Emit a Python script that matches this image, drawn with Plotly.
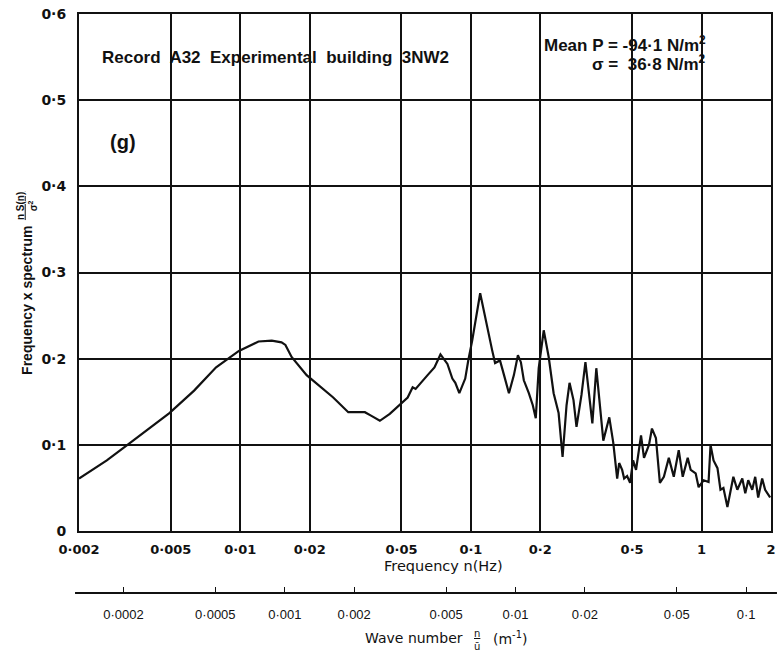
import math
import plotly.graph_objects as go

frequency_hz = [
    0.002, 0.0023, 0.00264, 0.00332, 0.00404, 0.00493, 0.00631, 0.00786, 0.00987, 0.0120,
    0.0137, 0.0151, 0.0157, 0.0167, 0.0194, 0.0234, 0.0253, 0.0294, 0.0347, 0.0369,
    0.0403, 0.0445, 0.0482, 0.0532, 0.0559, 0.0576, 0.0649, 0.0695, 0.0738, 0.0791,
    0.0831, 0.0856, 0.0891, 0.0945, 0.0974, 0.1013, 0.1097, 0.1176, 0.1236, 0.1273,
    0.1337, 0.1392, 0.1462, 0.1536, 0.1599, 0.1647, 0.1696, 0.1783, 0.1855, 0.1911,
    0.1968, 0.2069, 0.2174, 0.2284, 0.2400, 0.2497, 0.2598, 0.2677, 0.2785, 0.2870,
    0.3016, 0.3137, 0.3264, 0.3362, 0.3497, 0.3640, 0.3750, 0.3981, 0.4140, 0.4307,
    0.4393, 0.4526, 0.4617, 0.4757, 0.4900, 0.5048, 0.5200, 0.5465, 0.5630, 0.5916,
    0.6094, 0.6340, 0.6597, 0.6864, 0.7212, 0.7578, 0.7963, 0.8286, 0.8709, 0.8973,
    0.9428, 0.9712, 1.0206, 1.0724, 1.0938, 1.1270, 1.1722, 1.2076, 1.2440, 1.2942,
    1.3332, 1.3734, 1.4290, 1.5016, 1.5470, 1.5936, 1.6584, 1.7084, 1.7600, 1.8310,
    1.8862, 1.9822,
]

# Frequency x spectrum, n S(n) / sigma^2
normalised_spectrum = [
    0.061, 0.072, 0.082, 0.102, 0.119, 0.137, 0.163, 0.190, 0.209, 0.220,
    0.221, 0.219, 0.216, 0.202, 0.181, 0.163, 0.155, 0.138, 0.138, 0.134,
    0.128, 0.136, 0.144, 0.155, 0.167, 0.165, 0.181, 0.190, 0.205, 0.194,
    0.177, 0.172, 0.160, 0.177, 0.198, 0.221, 0.276, 0.236, 0.210, 0.195,
    0.198, 0.181, 0.160, 0.181, 0.204, 0.196, 0.175, 0.160, 0.146, 0.131,
    0.189, 0.233, 0.202, 0.160, 0.137, 0.086, 0.146, 0.172, 0.152, 0.121,
    0.158, 0.196, 0.158, 0.125, 0.189, 0.140, 0.105, 0.132, 0.103, 0.061,
    0.079, 0.071, 0.061, 0.064, 0.056, 0.082, 0.071, 0.111, 0.085, 0.100,
    0.119, 0.108, 0.056, 0.063, 0.085, 0.063, 0.094, 0.063, 0.085, 0.071,
    0.067, 0.051, 0.059, 0.057, 0.100, 0.082, 0.073, 0.048, 0.050, 0.028,
    0.045, 0.063, 0.048, 0.061, 0.044, 0.059, 0.048, 0.063, 0.039, 0.061,
    0.048, 0.039,
]

freq_ticks = [0.002, 0.005, 0.01, 0.02, 0.05, 0.1, 0.2, 0.5, 1, 2]
freq_tick_text = ["0·002", "0·005", "0·01", "0·02", "0·05", "0·1", "0·2", "0·5", "1", "2"]

spectrum_ticks = [0, 0.1, 0.2, 0.3, 0.4, 0.5, 0.6]
spectrum_tick_text = ["0", "0·1", "0·2", "0·3", "0·4", "0·5", "0·6"]

wavenumber_ticks = [0.0002, 0.0005, 0.001, 0.002, 0.005, 0.01, 0.02, 0.05, 0.1]
wavenumber_tick_text = ["0·0002", "0·0005", "0·001", "0·002", "0·005", "0·01", "0·02", "0·05", "0·1"]

# Mean wind speed (m/s) relating frequency to wave number n/u
mean_wind_speed = 15.6

# ---------------------------------------------------------------- layout geometry
W, H = 782, 655
M_L, M_R, M_T, M_B = 79, 6, 13, 62
PLOT_BOTTOM_PX = 531           # bottom edge of the spectrum frame
paper_w = W - M_L - M_R
paper_h = H - M_T - M_B


def px_x(px):
    return (px - M_L) / paper_w


def px_y(py):
    return (H - M_B - py) / paper_h


SANS = "Liberation Sans, Arial, sans-serif"
WIDE = "DejaVu Sans, Verdana, sans-serif"
INK = "#111111"

fig = go.Figure()

fig.add_trace(go.Scatter(
    x=frequency_hz, y=normalised_spectrum, mode="lines",
    line=dict(color=INK, width=2.2), xaxis="x", yaxis="y",
    hoverinfo="skip", showlegend=False,
))

# same spectrum against wave number so the lower scale is laid out
fig.add_trace(go.Scatter(
    x=[f / mean_wind_speed for f in frequency_hz], y=normalised_spectrum,
    mode="lines", line=dict(width=0), opacity=0, xaxis="x2", yaxis="y",
    hoverinfo="skip", showlegend=False,
))

f_lo, f_hi = freq_ticks[0], freq_ticks[-1]

fig.update_layout(
    width=W, height=H,
    margin=dict(l=M_L, r=M_R, t=M_T, b=M_B, pad=0),
    paper_bgcolor="white", plot_bgcolor="white",
    font=dict(family=SANS, color=INK),
    xaxis=dict(
        type="log", range=[math.log10(f_lo), math.log10(f_hi)],
        domain=[0, 1], anchor="y",
        tickmode="array", tickvals=freq_ticks, ticktext=freq_tick_text,
        ticks="", ticklabelstandoff=5,
        tickfont=dict(family=WIDE, size=13, weight="bold", color=INK),
        showgrid=True, gridcolor=INK, gridwidth=1.6,
        showline=True, linecolor=INK, linewidth=2, mirror=True,
        zeroline=False,
    ),
    yaxis=dict(
        range=[0, 0.6], domain=[px_y(PLOT_BOTTOM_PX), 1], anchor="x",
        tickmode="array", tickvals=spectrum_ticks, ticktext=spectrum_tick_text,
        ticks="", ticklabelstandoff=8,
        tickfont=dict(family=WIDE, size=14, weight="bold", color=INK),
        showgrid=True, gridcolor=INK, gridwidth=1.6,
        showline=True, linecolor=INK, linewidth=2, mirror=True,
        zeroline=False,
    ),
    xaxis2=dict(
        type="log",
        range=[math.log10(f_lo / mean_wind_speed), math.log10(f_hi / mean_wind_speed)],
        domain=[0, 1], anchor="free", position=0, overlaying="x", side="bottom",
        tickmode="array", tickvals=wavenumber_ticks, ticktext=wavenumber_tick_text,
        ticks="inside", ticklen=6, tickwidth=1.2, tickcolor=INK,
        ticklabelstandoff=12,
        tickfont=dict(family=SANS, size=13, color=INK),
        showgrid=False, showline=False, zeroline=False,
    ),
)

# baseline of the wave-number scale, running a little past the frame
fig.add_shape(type="line", xref="paper", yref="paper",
              x0=px_x(75), x1=px_x(782), y0=0, y1=0,
              line=dict(color=INK, width=2))

annotations = [
    dict(text="Record  A32  Experimental  building  3NW2",
         x=px_x(100), y=px_y(57), xanchor="left", yanchor="middle",
         font=dict(size=17, weight="bold")),
    dict(text="Mean P = -94·1 N/m<sup>2</sup>",
         x=px_x(713), y=px_y(43), xanchor="right", yanchor="middle",
         font=dict(size=17, weight="bold")),
    dict(text="σ =  36·8 N/m<sup>2</sup>",
         x=px_x(713), y=px_y(62), xanchor="right", yanchor="middle",
         font=dict(size=17, weight="bold")),
    dict(text="(g)",
         x=px_x(108), y=px_y(141), xanchor="left", yanchor="middle",
         font=dict(size=20, weight="bold")),
    dict(text="Frequency n(Hz)",
         x=px_x(446), y=px_y(566), xanchor="center", yanchor="middle",
         font=dict(family=WIDE, size=14.5)),
    dict(text="Wave number",
         x=px_x(468), y=px_y(638), xanchor="right", yanchor="middle",
         font=dict(family=WIDE, size=14)),
    dict(text="<u>n</u><br>ū",
         x=px_x(480), y=px_y(640), xanchor="center", yanchor="middle",
         font=dict(family=WIDE, size=10)),
    dict(text="(m<sup>-1</sup>)",
         x=px_x(494), y=px_y(638), xanchor="left", yanchor="middle",
         font=dict(family=WIDE, size=14)),
    dict(text="Frequency x spectrum",
         x=px_x(26), y=px_y(300), xanchor="center", yanchor="middle",
         textangle=-90, font=dict(size=14, weight="bold")),
    dict(text="<u>n S(n)</u><br>σ<sup>2</sup>",
         x=px_x(26), y=px_y(205), xanchor="center", yanchor="middle",
         textangle=-90, font=dict(size=10, weight="bold")),
]
for a in annotations:
    a.update(xref="paper", yref="paper", showarrow=False)
fig.update_layout(annotations=annotations)

fig.write_html("out.html")
